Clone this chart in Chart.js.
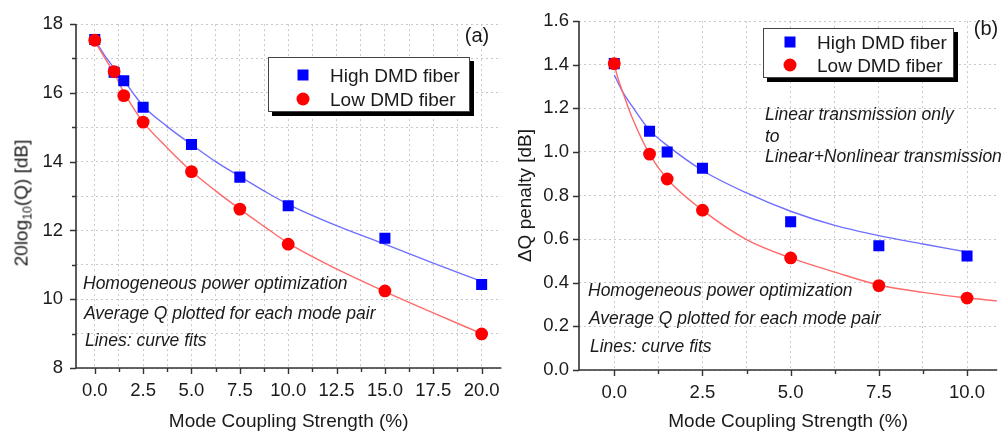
<!DOCTYPE html>
<html><head><meta charset="utf-8">
<script src="https://cdn.jsdelivr.net/npm/chart.js@4.4.1/dist/chart.umd.min.js"></script>
<style>
html,body{margin:0;padding:0;background:#fff;}
body{width:1005px;height:438px;position:relative;overflow:hidden;font-family:"Liberation Sans",Arial,sans-serif;color:#1a1a1a;}
canvas{position:absolute;top:0;}
#c1{left:0;} #c2{left:510px;}
.t{position:absolute;white-space:nowrap;line-height:1;transform:translateY(-50%);}
.ann{font-style:italic;font-size:17.5px;color:#1a1a1a;}
.lg{position:absolute;background:#fff;border:1px solid #444;box-shadow:4px 4px 0 #000;}
.lg .m{position:absolute;transform:translate(-50%,-50%);}
.lg .sq{width:11px;height:11px;background:#0000ff;}
.lg .ci{width:13px;height:13px;border-radius:50%;background:#ff0000;}
.lg .lt{position:absolute;font-size:19px;line-height:1;transform:translateY(-50%);white-space:nowrap;}
.yt{position:absolute;white-space:nowrap;font-size:19px;line-height:1;transform:translate(-50%,-50%) rotate(-90deg);}
.yt sub{font-size:0.65em;vertical-align:-0.3em;line-height:0;}
.pl{position:absolute;font-size:20px;line-height:1;transform:translate(-50%,-50%);}
</style>
</head><body>
<canvas id="c1" width="512" height="438"></canvas>
<canvas id="c2" width="495" height="438"></canvas>

<div class="yt" style="left:20.5px;top:203px;">20log<sub>10</sub>(Q) [dB]</div>
<div class="pl" style="left:477px;top:35px;">(a)</div>
<div class="pl" style="left:986px;top:28px;">(b)</div>

<div class="lg" style="left:268px;top:57px;width:200px;height:53px;">
  <div class="m sq" style="left:34px;top:17px;"></div>
  <div class="lt" style="left:61px;top:17px;">High DMD fiber</div>
  <div class="m ci" style="left:34px;top:41px;"></div>
  <div class="lt" style="left:61px;top:41px;">Low DMD fiber</div>
</div>
<div class="lg" style="left:763px;top:28px;width:189px;height:48px;">
  <div class="m sq" style="left:26px;top:13px;"></div>
  <div class="lt" style="left:53px;top:13px;">High DMD fiber</div>
  <div class="m ci" style="left:26px;top:36px;"></div>
  <div class="lt" style="left:53px;top:36px;">Low DMD fiber</div>
</div>

<div class="t ann" style="left:83px;top:284px;">Homogeneous power optimization</div>
<div class="t ann" style="left:84px;top:314px;">Average Q plotted for each mode pair</div>
<div class="t ann" style="left:85px;top:341px;">Lines: curve fits</div>

<div class="t ann" style="left:588px;top:291px;">Homogeneous power optimization</div>
<div class="t ann" style="left:589px;top:319px;">Average Q plotted for each mode pair</div>
<div class="t ann" style="left:590px;top:347px;">Lines: curve fits</div>

<div class="t ann" style="left:765px;top:115px;">Linear transmission only</div>
<div class="t ann" style="left:765px;top:137px;">to</div>
<div class="t ann" style="left:765px;top:157px;">Linear+Nonlinear transmission</div>

<script>
// ---------- Panel (a) data ----------
const couplingA = [0, 1, 1.5, 2.5, 5, 7.5, 10, 15, 20];
const highDmdQ  = [17.55, 16.6, 16.35, 15.58, 14.5, 13.55, 12.72, 11.77, 10.43];
const lowDmdQ   = [17.53, 16.62, 15.92, 15.15, 13.71, 12.62, 11.6, 10.24, 8.99];
const fitXA     = [0, 0.5, 1, 1.5, 2, 2.5, 3.75, 5, 6.25, 7.5, 8.75, 10, 12.5, 15, 17.5, 20];
const highFitQ  = [17.55, 17.1, 16.72, 16.37, 15.98, 15.62, 15.02, 14.5, 14.0, 13.57, 13.15, 12.76, 12.14, 11.6, 11.05, 10.52];
const lowFitQ   = [17.5, 17.03, 16.57, 16.02, 15.56, 15.15, 14.4, 13.72, 13.15, 12.62, 12.12, 11.63, 10.88, 10.22, 9.6, 9.0];
const xTicksA   = [0, 1.25, 2.5, 3.75, 5, 6.25, 7.5, 8.75, 10, 11.25, 12.5, 13.75, 15, 16.25, 17.5, 18.75, 20];

// ---------- Panel (b) data ----------
const couplingB  = [0, 1, 1.5, 2.5, 5, 7.5, 10];
const highDmdPen = [1.405, 1.095, 1.0, 0.925, 0.68, 0.57, 0.523];
const lowDmdPen  = [1.405, 0.99, 0.876, 0.733, 0.514, 0.387, 0.33];
const fitXBHigh  = [0, 0.25, 0.5, 1, 1.5, 2.5, 3.75, 5, 6.25, 7.5, 8.75, 10];
const highFitPen = [1.353, 1.272, 1.211, 1.10, 1.03, 0.915, 0.812, 0.728, 0.663, 0.616, 0.578, 0.541];
const fitXBLow   = [0, 0.1, 0.28, 0.5, 1, 1.5, 2.5, 3.75, 5, 6.25, 7.5, 8.75, 10, 10.85];
const lowFitPen  = [1.40, 1.34, 1.256, 1.16, 0.99, 0.876, 0.733, 0.598, 0.514, 0.449, 0.39, 0.356, 0.33, 0.317];
const xTicksB    = [0, 1.25, 2.5, 3.75, 5, 6.25, 7.5, 8.75, 10];

const FONT = '"Liberation Sans", Arial, sans-serif';
const pts = (xs, ys) => xs.map((x, i) => ({x, y: ys[i]}));

const axisPlugin = {
  id: 'axisDraw',
  afterDraw(chart) {
    const {ctx, chartArea: a, scales: {x, y}} = chart;
    ctx.save();
    ctx.strokeStyle = '#333';
    ctx.lineWidth = 1.6;
    ctx.beginPath();
    ctx.moveTo(a.left, a.top);
    ctx.lineTo(a.left, a.bottom);
    ctx.lineTo(a.right, a.bottom);
    ctx.stroke();
    ctx.lineWidth = 1.4;
    ctx.beginPath();
    x.ticks.forEach(t => {
      const px = Math.round(x.getPixelForValue(t.value)) + 0.5;
      const L = t.label ? 6 : 4;
      ctx.moveTo(px, a.bottom); ctx.lineTo(px, a.bottom + L);
    });
    y.ticks.forEach(t => {
      const py = Math.round(y.getPixelForValue(t.value)) + 0.5;
      const L = t.label ? 6 : 4;
      ctx.moveTo(a.left, py); ctx.lineTo(a.left - L, py);
    });
    ctx.stroke();
    ctx.restore();
  }
};

function makeChart(id, cfg) {
  const tickFont = {family: FONT, size: 18.5};
  const titleFont = {family: FONT, size: 19};
  return new Chart(document.getElementById(id), {
    type: 'scatter',
    data: {datasets: [
      {data: pts(cfg.xs, cfg.low), pointStyle: 'circle', pointRadius: 6.4, backgroundColor: '#ff0000', borderColor: '#ff0000', pointBorderWidth: 0, showLine: false},
      {data: pts(cfg.xs, cfg.high), pointStyle: 'rect', pointRadius: 7.8, backgroundColor: '#0000ff', borderColor: '#0000ff', pointBorderWidth: 0, showLine: false},
      {data: pts(cfg.fxLow, cfg.fLow), showLine: true, pointRadius: 0, borderColor: '#ff6a6a', borderWidth: 1.4, cubicInterpolationMode: 'monotone', fill: false},
      {data: pts(cfg.fxHigh, cfg.fHigh), showLine: true, pointRadius: 0, borderColor: '#6f6fff', borderWidth: 1.4, cubicInterpolationMode: 'monotone', fill: false}
    ]},
    options: {
      responsive: false, animation: false,
      layout: {padding: {top: cfg.top, right: cfg.right, left: 0, bottom: 0}},
      plugins: {legend: {display: false}, tooltip: {enabled: false}},
      scales: {
        x: {
          type: 'linear', min: cfg.xmin, max: cfg.xmax,
          afterBuildTicks: s => { s.ticks = cfg.xTicks.map(v => ({value: v})); },
          afterFit: s => { s.height = cfg.xh; },
          ticks: {autoSkip: false, maxRotation: 0, padding: 12, color: '#1a1a1a', font: tickFont,
            callback: v => (Math.abs(v / 2.5 - Math.round(v / 2.5)) < 1e-6) ? v.toFixed(1) : ''},
          grid: {color: '#c8c8c8', lineWidth: 1, drawTicks: false},
          border: {display: false, dash: [2, 3]},
          title: {display: true, text: 'Mode Coupling Strength (%)', color: '#1a1a1a', font: titleFont, padding: {top: 0, bottom: 5}}
        },
        y: {
          type: 'linear', min: cfg.ymin, max: cfg.ymax,
          afterFit: s => { s.width = cfg.yw; },
          ticks: {stepSize: cfg.ystep, padding: cfg.ypad, color: '#1a1a1a', font: tickFont, callback: cfg.ylab},
          grid: {color: '#c8c8c8', lineWidth: 1, drawTicks: false},
          border: {display: false, dash: [2, 3]},
          title: cfg.ytitle
        }
      }
    },
    plugins: [axisPlugin]
  });
}

makeChart('c1', {
  xs: couplingA, high: highDmdQ, low: lowDmdQ,
  fxHigh: fitXA, fHigh: highFitQ, fxLow: fitXA, fLow: lowFitQ,
  xTicks: xTicksA, xmin: -0.97, xmax: 21.02, ymin: 8, ymax: 18, ystep: 1,
  ylab: v => (Math.round(v) % 2 === 0) ? String(Math.round(v)) : '',
  top: 12, right: 4, xh: 70, yw: 76, ypad: 13,
  ytitle: {display: false}
});

makeChart('c2', {
  xs: couplingB, high: highDmdPen, low: lowDmdPen,
  fxHigh: fitXBHigh, fHigh: highFitPen, fxLow: fitXBLow, fLow: lowFitPen,
  xTicks: xTicksB, xmin: -1.0, xmax: 10.855, ymin: 0, ymax: 1.6, ystep: 0.1,
  ylab: v => (Math.round(v * 10) % 2 === 0) ? v.toFixed(1) : '',
  top: 13.4, right: 0, xh: 68, yw: 69, ypad: 10,
  ytitle: {display: true, text: 'ΔQ penalty [dB]', color: '#1a1a1a', font: {family: FONT, size: 19}, padding: {top: 4.5, bottom: 0}}
});
</script>
</body></html>
